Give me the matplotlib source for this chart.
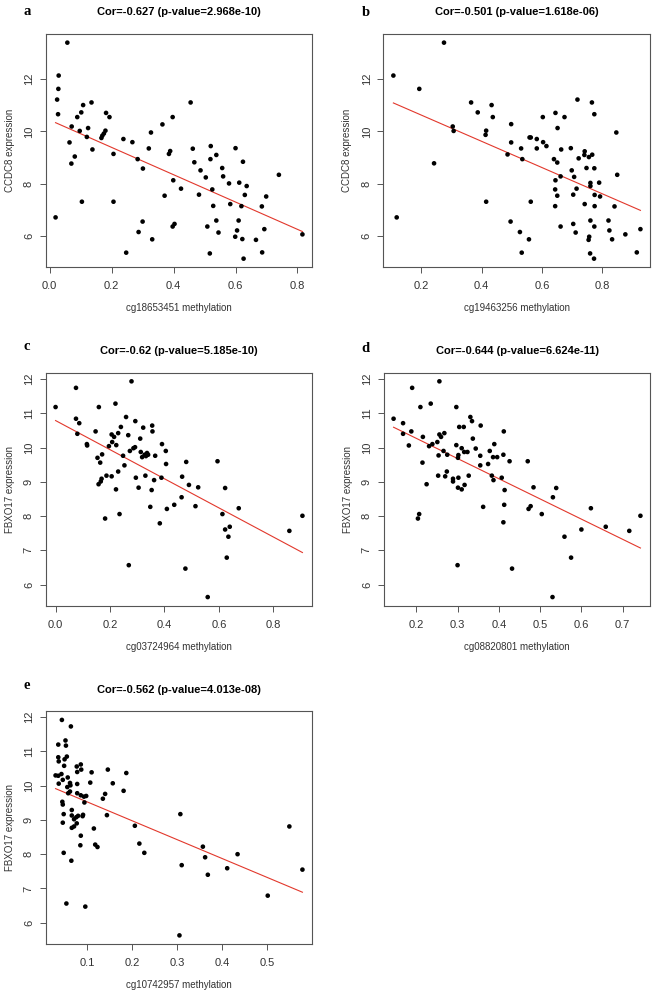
import numpy as np
import matplotlib
matplotlib.use("Agg")
import matplotlib.pyplot as plt

plt.rcParams['font.family'] = ['Liberation Sans', 'DejaVu Sans']

# ---------------- data ----------------
a_x = [0.057, 0.029, 0.028, 0.024, 0.027, 0.071, 0.089, 0.102, 0.108, 0.135,
       0.097, 0.124, 0.120, 0.064, 0.138, 0.182, 0.193, 0.180, 0.175, 0.170,
       0.167, 0.206, 0.238, 0.267, 0.320, 0.327, 0.364, 0.397, 0.385, 0.389,
       0.455, 0.462, 0.520, 0.538, 0.519, 0.600, 0.081, 0.070, 0.284, 0.301,
       0.467, 0.487, 0.504, 0.557, 0.560, 0.624, 0.579, 0.612, 0.636, 0.399,
       0.424, 0.371, 0.482, 0.525, 0.630, 0.699, 0.740, 0.583, 0.619, 0.528,
       0.685, 0.104, 0.206, 0.019, 0.300, 0.509, 0.538, 0.610, 0.397, 0.403,
       0.287, 0.331, 0.545, 0.605, 0.599, 0.622, 0.666, 0.693, 0.686, 0.816,
       0.247, 0.517, 0.626]
a_y = [13.40, 12.14, 11.63, 11.22, 10.66, 10.19, 10.55, 10.73, 11.01, 11.11,
       10.02, 10.13, 9.79, 9.58, 9.31, 10.71, 10.55, 10.03, 9.92, 9.84,
       9.75, 9.14, 9.71, 9.59, 9.35, 9.96, 10.27, 10.55, 9.14, 9.25,
       11.11, 9.34, 9.44, 9.10, 8.94, 9.36, 9.04, 8.77, 8.94, 8.58,
       8.82, 8.51, 8.24, 8.60, 8.28, 8.84, 8.01, 8.04, 7.91, 8.13,
       7.81, 7.54, 7.58, 7.78, 7.57, 7.51, 8.34, 7.22, 7.14, 7.15,
       7.13, 7.31, 7.31, 6.71, 6.55, 6.36, 6.59, 6.59, 6.36, 6.46,
       6.15, 5.87, 6.13, 6.21, 5.97, 5.88, 5.85, 6.26, 5.37, 6.06,
       5.36, 5.33, 5.13]

b_x = [0.275, 0.107, 0.193, 0.718, 0.774, 0.304, 0.437, 0.387, 0.433, 0.365,
       0.307, 0.652, 0.559, 0.498, 0.664, 0.645, 0.603, 0.415, 0.413, 0.563,
       0.583, 0.486, 0.604, 0.615, 0.583, 0.847, 0.498, 0.675, 0.742, 0.741,
       0.766, 0.531, 0.696, 0.756, 0.767, 0.640, 0.651, 0.242, 0.535, 0.722,
       0.699, 0.748, 0.774, 0.662, 0.707, 0.850, 0.645, 0.761, 0.761, 0.790,
       0.644, 0.715, 0.704, 0.651, 0.775, 0.793, 0.742, 0.775, 0.841, 0.644,
       0.563, 0.415, 0.118, 0.496, 0.662, 0.704, 0.761, 0.821, 0.774, 0.824,
       0.712, 0.527, 0.557, 0.757, 0.755, 0.833, 0.877, 0.927, 0.533, 0.760,
       0.915, 0.773]
b_y = [13.40, 12.14, 11.63, 11.22, 10.66, 10.19, 10.55, 10.73, 11.01, 11.11,
       10.02, 10.13, 9.77, 9.58, 9.31, 10.71, 10.55, 10.03, 9.87, 9.77,
       9.71, 9.12, 9.59, 9.44, 9.35, 9.96, 10.28, 10.55, 9.24, 9.10,
       11.11, 9.35, 9.36, 9.02, 9.11, 8.94, 8.81, 8.78, 8.94, 8.97,
       8.51, 8.60, 8.59, 8.28, 8.26, 8.34, 8.13, 8.03, 7.91, 8.04,
       7.78, 7.81, 7.58, 7.54, 7.57, 7.51, 7.22, 7.14, 7.13, 7.14,
       7.31, 7.31, 6.71, 6.55, 6.36, 6.46, 6.59, 6.59, 6.36, 6.21,
       6.13, 6.15, 5.87, 5.97, 5.85, 5.87, 6.06, 6.26, 5.36, 5.33,
       5.37, 5.13]

c_x = [0.000, 0.075, 0.075, 0.087, 0.080, 0.115, 0.116, 0.159, 0.220, 0.279,
       0.147, 0.154, 0.171, 0.164, 0.196, 0.206, 0.215, 0.208, 0.230, 0.223,
       0.240, 0.259, 0.267, 0.248, 0.253, 0.273, 0.286, 0.292, 0.293, 0.311,
       0.322, 0.313, 0.318, 0.327, 0.336, 0.332, 0.340, 0.355, 0.356, 0.366,
       0.391, 0.405, 0.406, 0.480, 0.595, 0.158, 0.166, 0.169, 0.187, 0.206,
       0.230, 0.222, 0.182, 0.235, 0.295, 0.305, 0.330, 0.353, 0.362, 0.389,
       0.348, 0.409, 0.436, 0.463, 0.465, 0.490, 0.524, 0.514, 0.383, 0.269,
       0.477, 0.559, 0.613, 0.623, 0.673, 0.623, 0.640, 0.635, 0.629, 0.859,
       0.907]
c_y = [11.18, 11.74, 10.84, 10.71, 10.40, 10.10, 10.06, 11.18, 11.28, 11.93,
       10.47, 9.70, 9.80, 9.56, 10.04, 10.38, 10.31, 10.16, 10.42, 10.07,
       10.60, 10.89, 10.36, 9.76, 9.48, 9.90, 9.98, 10.01, 10.77, 10.26,
       10.58, 9.87, 9.72, 9.79, 9.84, 9.75, 9.79, 10.64, 10.47, 9.76,
       10.10, 9.90, 9.52, 9.58, 9.60, 8.93, 9.01, 9.09, 9.18, 9.16,
       9.30, 8.78, 7.93, 8.06, 9.12, 8.83, 9.18, 8.76, 9.05, 9.12,
       8.27, 8.21, 8.33, 8.55, 9.15, 8.91, 8.84, 8.29, 7.79, 6.57,
       6.47, 5.64, 8.06, 8.82, 8.23, 7.61, 7.69, 7.40, 6.79, 7.57,
       8.01]

d_x = [0.145, 0.168, 0.168, 0.182, 0.190, 0.188, 0.210, 0.216, 0.215, 0.231,
       0.235, 0.239, 0.251, 0.256, 0.256, 0.260, 0.268, 0.254, 0.266, 0.275,
       0.297, 0.297, 0.301, 0.304, 0.302, 0.310, 0.315, 0.316, 0.324, 0.331,
       0.335, 0.337, 0.344, 0.356, 0.355, 0.355, 0.374, 0.378, 0.386, 0.396,
       0.389, 0.411, 0.412, 0.426, 0.470, 0.225, 0.253, 0.270, 0.274, 0.289,
       0.289, 0.302, 0.301, 0.310, 0.317, 0.327, 0.204, 0.207, 0.300, 0.362,
       0.383, 0.387, 0.407, 0.414, 0.413, 0.411, 0.432, 0.472, 0.477, 0.484,
       0.504, 0.531, 0.539, 0.530, 0.559, 0.575, 0.600, 0.623, 0.659, 0.716,
       0.743]
d_y = [10.84, 10.71, 10.40, 10.06, 11.74, 10.47, 11.18, 10.31, 9.56, 10.04,
       11.28, 10.10, 10.16, 11.93, 10.38, 10.31, 10.42, 9.77, 9.90, 9.79,
       11.18, 10.07, 9.70, 10.60, 9.78, 9.98, 10.60, 9.87, 9.87, 10.89,
       10.77, 10.26, 9.97, 10.64, 9.48, 9.76, 9.52, 9.90, 9.72, 9.72,
       10.10, 9.79, 10.47, 9.60, 9.60, 8.93, 9.18, 9.16, 9.30, 9.09,
       9.01, 9.12, 8.83, 8.78, 8.91, 9.18, 7.93, 8.06, 6.57, 8.27,
       9.18, 9.05, 9.12, 8.76, 8.33, 7.82, 6.47, 8.21, 8.29, 8.84,
       8.06, 8.55, 8.82, 5.64, 7.40, 6.79, 7.61, 8.23, 7.69, 7.57,
       8.01]

e_x = [0.044, 0.064, 0.036, 0.052, 0.053, 0.055, 0.050, 0.036, 0.037, 0.049,
       0.030, 0.036, 0.043, 0.046, 0.037, 0.057, 0.077, 0.086, 0.087, 0.078,
       0.056, 0.062, 0.063, 0.062, 0.058, 0.078, 0.078, 0.086, 0.093, 0.098,
       0.110, 0.107, 0.146, 0.157, 0.187, 0.181, 0.140, 0.135, 0.045, 0.046,
       0.094, 0.048, 0.046, 0.066, 0.066, 0.071, 0.076, 0.080, 0.066, 0.071,
       0.077, 0.090, 0.091, 0.048, 0.065, 0.054, 0.096, 0.086, 0.085, 0.115,
       0.118, 0.123, 0.144, 0.206, 0.216, 0.227, 0.307, 0.310, 0.305, 0.357,
       0.362, 0.368, 0.411, 0.434, 0.501, 0.549, 0.578]
e_y = [11.92, 11.73, 11.20, 11.32, 11.17, 10.85, 10.77, 10.83, 10.71, 10.58,
       10.30, 10.29, 10.34, 10.17, 10.06, 10.24, 10.56, 10.62, 10.47, 10.40,
       9.96, 10.08, 10.01, 9.83, 9.78, 10.05, 9.78, 9.72, 9.68, 9.70,
       10.39, 10.09, 10.47, 10.07, 10.37, 9.85, 9.76, 9.62, 9.53, 9.45,
       9.51, 9.17, 8.92, 9.29, 9.13, 9.02, 9.08, 9.12, 8.77, 8.81,
       8.90, 9.11, 9.15, 8.04, 7.81, 6.56, 6.47, 8.54, 8.26, 8.75,
       8.28, 8.21, 9.14, 8.83, 8.31, 8.04, 9.17, 7.68, 5.63, 8.22,
       7.91, 7.40, 7.59, 8.00, 6.79, 8.81, 7.55]

letters = ['a', 'b', 'c', 'd', 'e']
titles = ['Cor=-0.627 (p-value=2.968e-10)', 'Cor=-0.501 (p-value=1.618e-06)',
          'Cor=-0.62 (p-value=5.185e-10)', 'Cor=-0.644 (p-value=6.624e-11)',
          'Cor=-0.562 (p-value=4.013e-08)']
xlabels = ['cg18653451 methylation', 'cg19463256 methylation',
           'cg03724964 methylation', 'cg08820801 methylation',
           'cg10742957 methylation']
ylabels = ['CCDC8 expression', 'CCDC8 expression', 'FBXO17 expression',
           'FBXO17 expression', 'FBXO17 expression']
xticks = [[0.0, 0.2, 0.4, 0.6, 0.8], [0.2, 0.4, 0.6, 0.8],
          [0.0, 0.2, 0.4, 0.6, 0.8], [0.2, 0.3, 0.4, 0.5, 0.6, 0.7],
          [0.1, 0.2, 0.3, 0.4, 0.5]]
yticks = [[6, 8, 10, 12], [6, 8, 10, 12], [6, 7, 8, 9, 10, 11, 12],
          [6, 7, 8, 9, 10, 11, 12], [6, 7, 8, 9, 10, 11, 12]]

# ---------------- layout ----------------
W, H = 654, 992
fig = plt.figure(figsize=(W / 100, H / 100), dpi=100)
fig.patch.set_facecolor('white')

# axes boxes in pixels: left, top, right, bottom
boxes = [(45.7, 34.0, 312.3, 267.3), (383.5, 34.0, 650.3, 267.3),
         (45.7, 372.7, 312.3, 605.7), (383.7, 372.7, 650.3, 605.7),
         (45.7, 711.3, 312.3, 944.0)]
letter_pos = [(24, 15), (362, 16), (23, 350.5), (361, 352), (23, 689)]

datasets = [(a_x, a_y), (b_x, b_y), (c_x, c_y), (d_x, d_y), (e_x, e_y)]
edge = '#555555'
txt = '#333333'

for i, (xs, ys) in enumerate(datasets):
    l, t, r, b = boxes[i]
    ax = fig.add_axes([l / W, 1 - b / H, (r - l) / W, (b - t) / H])
    xs = np.array(xs)
    ys = np.array(ys)
    ax.scatter(xs, ys, s=11, color='black', edgecolors='none', zorder=3)
    coef = np.polyfit(xs, ys, 1)
    xl = np.array([xs.min(), xs.max()])
    ax.plot(xl, np.polyval(coef, xl), color='#e2382c', lw=0.8, zorder=2)
    # R-style 4% padding
    xr = xs.max() - xs.min()
    yr = ys.max() - ys.min()
    ax.set_xlim(xs.min() - 0.04 * xr, xs.max() + 0.04 * xr)
    ax.set_ylim(ys.min() - 0.04 * yr, ys.max() + 0.04 * yr)
    ax.set_xticks(xticks[i])
    ax.set_xticklabels([f'{v:.1f}' for v in xticks[i]])
    ax.set_yticks(yticks[i])
    ax.set_yticklabels([str(v) for v in yticks[i]], rotation=90, va='center')
    ax.tick_params(axis='both', direction='out', length=4, width=0.7,
                   color=edge, labelsize=8, labelcolor=txt)
    ax.tick_params(axis='x', pad=6)
    ax.tick_params(axis='y', pad=4.5)
    for sp in ax.spines.values():
        sp.set_color(edge)
        sp.set_linewidth(0.8)
    ax.set_xlabel(xlabels[i], fontsize=7, color=txt)
    ax.xaxis.set_label_coords(0.5, -36.0 / (b - t))
    ax.set_ylabel(ylabels[i], fontsize=7, color=txt)
    ax.yaxis.set_label_coords(-31.0 / (r - l), 0.5)
    ax.annotate(titles[i], xy=(0.5, 1), xycoords='axes fraction',
                xytext=(0, 13.5), textcoords='offset points',
                ha='center', va='baseline', fontsize=8, fontweight='bold',
                color='black')
    lx, ly = letter_pos[i]
    fig.text(lx / W, 1 - ly / H, letters[i], fontsize=10.5, fontweight='bold',
             family=['Liberation Serif', 'DejaVu Serif'], ha='left',
             va='baseline', color='black')

fig.savefig('out.png', dpi=100, facecolor='white')
